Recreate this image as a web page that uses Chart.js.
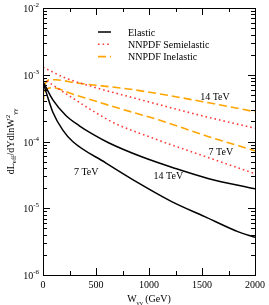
<!DOCTYPE html>
<html>
<head>
<meta charset="UTF-8">
<title>Effective photon-photon luminosity</title>
<script src="https://cdn.jsdelivr.net/npm/chart.js"></script>
<style>
  html, body { margin: 0; padding: 0; background: #fff; }
</style>
</head>
<body>
<canvas id="lumi" width="269" height="305"></canvas>
<script>
// values (W in GeV, luminosity per GeV^2)
const wElastic7 = [0, 31, 93, 187, 280, 591, 903, 1214, 1526, 1837, 2000];
const elastic7 = [7.8e-4, 5.4e-4, 2.75e-4, 1.48e-4, 1.0e-4, 4.8e-5, 2.38e-5, 1.26e-5, 7.5e-6, 4.47e-6, 3.66e-6];

const wElastic14 = [0, 93, 218, 343, 464, 623, 931, 1248, 1556, 2000];
const elastic14 = [7.9e-4, 4.2e-4, 2.43e-4, 1.72e-4, 1.3e-4, 9.5e-5, 5.9e-5, 3.95e-5, 2.8e-5, 1.95e-5];

const wSemi7 = [0, 250, 500, 685, 1000, 1400, 2000];
const semi7 = [8.8e-4, 4.8e-4, 2.69e-4, 1.85e-4, 1.18e-4, 7.0e-5, 3.3e-5];

const wSemi14 = [0, 200, 500, 856, 1500, 2000];
const semi14 = [1.3e-3, 9.1e-4, 6.4e-4, 4.5e-4, 2.43e-4, 1.58e-4];

const wInel7 = [0, 10, 30, 80, 300, 700, 1090, 1556, 2000];
const inel7 = [3.67e-4, 5.0e-4, 5.96e-4, 6.38e-4, 5.0e-4, 3.2e-4, 2.11e-4, 1.19e-4, 7.25e-5];

const wInel14 = [0, 10, 30, 70, 120, 300, 856, 1615, 2000];
const inel14 = [4.5e-4, 6.4e-4, 7.8e-4, 8.4e-4, 8.4e-4, 7.6e-4, 5.96e-4, 3.67e-4, 2.79e-4];

const yTicks = [1e-6, 1e-5, 1e-4, 1e-3, 1e-2];
const yExps = ['-6', '-5', '-4', '-3', '-2'];
const xTicks = [0, 500, 1000, 1500, 2000];

const legendNames = ['Elastic', 'NNPDF Semielastic', 'NNPDF Inelastic'];

// curve labels, placed in data coordinates
const curveNotes = [
  { text: '14 TeV', w: 1622, v: 4.68e-4 },
  { text: '7 TeV', w: 1678, v: 7.0e-5 },
  { text: '14 TeV', w: 1183, v: 3.06e-5 },
  { text: '7 TeV', w: 408, v: 3.51e-5 }
];

const SERIF = '"Liberation Serif", "DejaVu Serif", serif';
const BLACK = '#000';
const RED = 'rgb(255,60,60)';
const ORANGE = 'rgb(255,165,0)';

const styles = [
  { color: BLACK, dash: [], width: 1.5 },
  { color: RED, dash: [1.6, 3], width: 1.6 },
  { color: ORANGE, dash: [8, 4], width: 1.6 }
];

function pts(ws, vs) {
  return ws.map((w, i) => ({ x: w, y: vs[i] }));
}

function ds(ws, vs, st) {
  return {
    data: pts(ws, vs),
    borderColor: st.color,
    borderDash: st.dash,
    borderWidth: st.width,
    pointRadius: 0,
    fill: false,
    cubicInterpolationMode: 'monotone'
  };
}

// frame, inward ticks, tick labels, titles, legend, notes
const decor = {
  id: 'decor',
  afterDraw(chart) {
    const ctx = chart.ctx;
    const a = chart.chartArea;
    const xs = chart.scales.x, ys = chart.scales.y;
    ctx.save();
    ctx.strokeStyle = BLACK;
    ctx.lineWidth = 1;
    ctx.strokeRect(Math.round(a.left) + 0.5, Math.round(a.top) + 0.5,
      Math.round(a.right - a.left), Math.round(a.bottom - a.top));

    ctx.beginPath();
    // x ticks (major every 500, minor every 250) on bottom and top
    for (let w = 0; w <= 2000; w += 250) {
      const px = Math.round(xs.getPixelForValue(w)) + 0.5;
      const len = (w % 500 === 0) ? 7 : 4;
      ctx.moveTo(px, a.bottom); ctx.lineTo(px, a.bottom - len);
      ctx.moveTo(px, a.top); ctx.lineTo(px, a.top + len);
    }
    // y ticks: decades long, 2..9 short, both sides
    for (let e = -6; e < -2; e++) {
      for (let m = 1; m <= 9; m++) {
        const py = Math.round(ys.getPixelForValue(m * Math.pow(10, e))) + 0.5;
        const len = m === 1 ? 7 : 4;
        ctx.moveTo(a.left, py); ctx.lineTo(a.left + len, py);
        ctx.moveTo(a.right, py); ctx.lineTo(a.right - len, py);
      }
    }
    ctx.stroke();

    // y tick labels with superscript exponents
    ctx.fillStyle = BLACK;
    ctx.textBaseline = 'alphabetic';
    yTicks.forEach((v, i) => {
      const py = ys.getPixelForValue(v);
      ctx.font = '7px ' + SERIF;
      const supW = ctx.measureText(yExps[i]).width;
      const right = a.left - 4;
      ctx.textAlign = 'left';
      ctx.fillText(yExps[i], right - supW, py - 1);
      ctx.font = '10px ' + SERIF;
      ctx.textAlign = 'right';
      ctx.fillText('10', right - supW, py + 4);
    });

    // y title, rotated, with sub/superscripts
    const yParts = [
      { t: 'dL', s: 10, dy: 0 },
      { t: 'eff', s: 7, dy: 2.5 },
      { t: '/dYdlnW', s: 10, dy: 0 },
      { t: '2', s: 7, dy: -4 },
      { t: 'γγ', s: 7, dy: 3 }
    ];
    drawParts(ctx, yParts, 10, (a.top + a.bottom) / 2, true);

    // x title
    const xParts = [
      { t: 'W', s: 10, dy: 0 },
      { t: 'γγ', s: 7, dy: 3 },
      { t: ' (GeV)', s: 10, dy: 0 }
    ];
    drawParts(ctx, xParts, (a.left + a.right) / 2, 298, false);

    // legend
    ctx.font = '10px ' + SERIF;
    ctx.textAlign = 'left';
    legendNames.forEach((name, i) => {
      const ly = a.top + 24 + i * 12.3;
      const st = styles[i];
      ctx.save();
      ctx.strokeStyle = st.color;
      ctx.lineWidth = st.width;
      ctx.setLineDash(st.dash);
      ctx.beginPath();
      ctx.moveTo(a.left + 55, ly);
      ctx.lineTo(a.left + 68, ly);
      ctx.stroke();
      ctx.restore();
      ctx.fillStyle = BLACK;
      ctx.fillText(name, a.left + 85, ly + 3.5);
    });

    // curve notes
    ctx.textAlign = 'center';
    curveNotes.forEach(n => {
      ctx.fillText(n.text, xs.getPixelForValue(n.w), ys.getPixelForValue(n.v) + 3.5);
    });
    ctx.restore();
  }
};

function drawParts(ctx, parts, cx, cy, rotate) {
  let total = 0;
  parts.forEach(p => { ctx.font = p.s + 'px ' + SERIF; p.w = ctx.measureText(p.t).width; total += p.w; });
  ctx.save();
  ctx.translate(cx, cy);
  if (rotate) ctx.rotate(-Math.PI / 2);
  ctx.fillStyle = BLACK;
  ctx.textAlign = 'left';
  ctx.textBaseline = 'alphabetic';
  let x = -total / 2;
  parts.forEach(p => {
    ctx.font = p.s + 'px ' + SERIF;
    ctx.fillText(p.t, x, 3.5 + p.dy);
    x += p.w;
  });
  ctx.restore();
}

new Chart(document.getElementById('lumi'), {
  type: 'line',
  data: {
    datasets: [
      ds(wElastic7, elastic7, styles[0]),
      ds(wElastic14, elastic14, styles[0]),
      ds(wSemi7, semi7, styles[1]),
      ds(wSemi14, semi14, styles[1]),
      ds(wInel7, inel7, styles[2]),
      ds(wInel14, inel14, styles[2])
    ]
  },
  options: {
    responsive: false,
    animation: false,
    layout: { padding: { top: 8, right: 11, left: 0, bottom: 0 } },
    plugins: { legend: { display: false }, tooltip: { enabled: false } },
    scales: {
      x: {
        type: 'linear', min: 0, max: 2000,
        grid: { display: false, drawTicks: false },
        border: { display: false },
        afterBuildTicks: s => { s.ticks = xTicks.map(v => ({ value: v })); },
        ticks: {
          color: BLACK, font: { family: SERIF, size: 10 }, padding: 4, maxRotation: 0, autoSkip: false,
          callback: v => String(v)
        },
        afterFit: s => { s.height = 30; }
      },
      y: {
        type: 'logarithmic', min: 1e-6, max: 1e-2,
        grid: { display: false, drawTicks: false },
        border: { display: false },
        afterBuildTicks: s => { s.ticks = yTicks.map(v => ({ value: v })); },
        ticks: { display: false },
        afterFit: s => { s.width = 43; }
      }
    }
  },
  plugins: [decor]
});
</script>
</body>
</html>
